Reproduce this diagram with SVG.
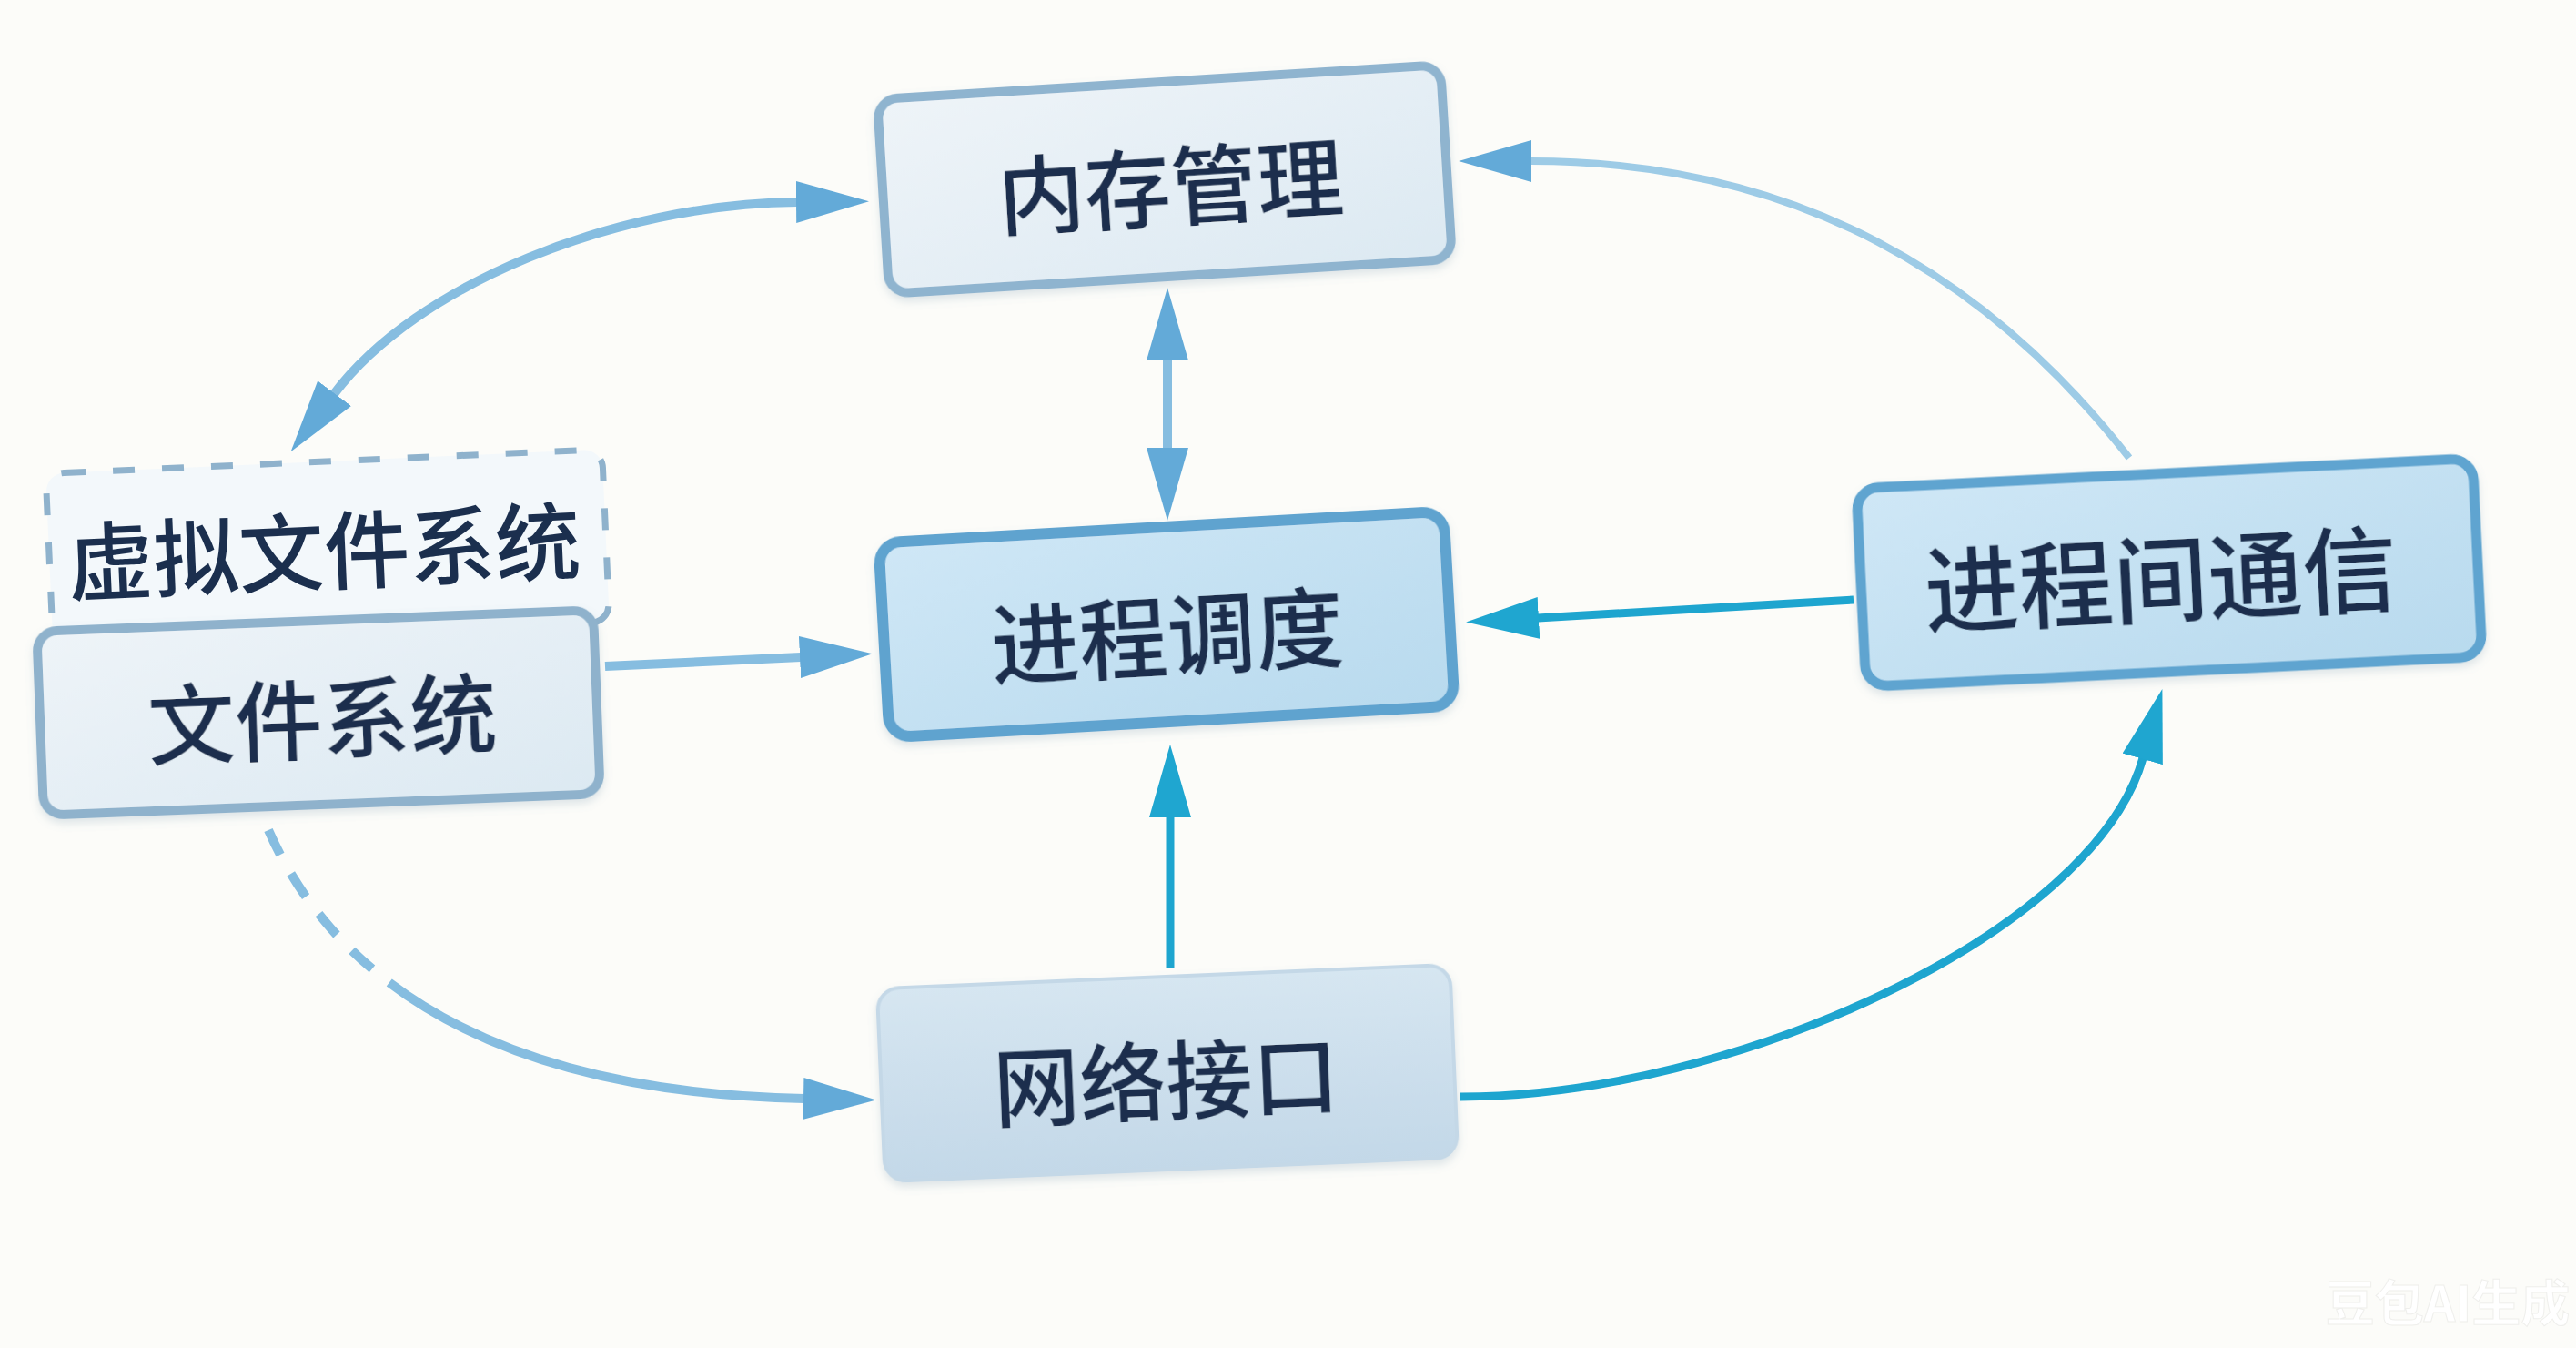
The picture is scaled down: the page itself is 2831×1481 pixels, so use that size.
<svg xmlns="http://www.w3.org/2000/svg" width="2831" height="1481" viewBox="0 0 2831 1481">
  <defs>
    <style>
      .lbl { font-family: "Noto Sans CJK SC", "Noto Sans", sans-serif; font-weight: 500; fill: #1b2f4e; text-anchor: middle; dominant-baseline: central; }
      .conn { fill: none; stroke-linecap: butt; }
      .light { stroke: #86bde0; stroke-width: 10; }
      .teal { stroke: #1ea5cf; stroke-width: 9; }
      .pale { stroke: #9dcbe6; stroke-width: 8; }
    </style>
    <linearGradient id="gPale" x1="0" y1="0" x2="1" y2="1">
      <stop offset="0" stop-color="#eef4f8"/>
      <stop offset="1" stop-color="#dce9f2"/>
    </linearGradient>
    <linearGradient id="gBlue" x1="0" y1="0" x2="1" y2="1">
      <stop offset="0" stop-color="#cfe7f6"/>
      <stop offset="1" stop-color="#b8daee"/>
    </linearGradient>
    <linearGradient id="gNet" x1="0" y1="0" x2="0" y2="1">
      <stop offset="0" stop-color="#d6e6f1"/>
      <stop offset="1" stop-color="#c3d8e8"/>
    </linearGradient>
    <filter id="sh" x="-10%" y="-10%" width="120%" height="130%">
      <feDropShadow dx="0" dy="5" stdDeviation="5" flood-color="#6f90a8" flood-opacity="0.22"/>
    </filter>
    <marker id="ahLight" markerUnits="userSpaceOnUse" markerWidth="80" markerHeight="46" viewBox="0 0 80 46" refX="1" refY="23" orient="auto-start-reverse">
      <path d="M0,0 L80,23 L0,46 Z" fill="#63aad8"/>
    </marker>
    <marker id="ahTeal" markerUnits="userSpaceOnUse" markerWidth="80" markerHeight="46" viewBox="0 0 80 46" refX="1" refY="23" orient="auto-start-reverse">
      <path d="M0,0 L80,23 L0,46 Z" fill="#1fa6d0"/>
    </marker>
  </defs>

  <rect x="0" y="0" width="2831" height="1481" fill="#fcfcf9"/>

  <!-- Nodes -->
  <g id="node-vfs" transform="translate(360,602) rotate(-2.5)">
    <rect x="-306" y="-95" width="612" height="190" rx="20" fill="#f3f8fb" stroke="#8fb2cc" stroke-width="7" stroke-dasharray="24 30"/>
    <text class="lbl" x="-4" y="-2" font-size="94">虚拟文件系统</text>
  </g>

  <g id="node-fs" transform="translate(350,783) rotate(-2.2)" filter="url(#sh)">
    <rect x="-306" y="-101" width="612" height="202" rx="22" fill="url(#gPale)" stroke="#8fb2cc" stroke-width="10"/>
    <text class="lbl" x="4" y="1" font-size="96">文件系统</text>
  </g>

  <g id="node-mem" transform="translate(1280,197) rotate(-3.5)" filter="url(#sh)">
    <rect x="-310" y="-107" width="620" height="214" rx="22" fill="url(#gPale)" stroke="#8fb4cf" stroke-width="10"/>
    <text class="lbl" x="6" y="3" font-size="95">内存管理</text>
  </g>

  <g id="node-sched" transform="translate(1282,686) rotate(-3.2)" filter="url(#sh)">
    <rect x="-311" y="-107" width="622" height="214" rx="24" fill="url(#gBlue)" stroke="#5ea3cf" stroke-width="12"/>
    <text class="lbl" x="0" y="6" font-size="97">进程调度</text>
  </g>

  <g id="node-ipc" transform="translate(2384,629) rotate(-2.8)" filter="url(#sh)">
    <rect x="-339" y="-109" width="678" height="218" rx="24" fill="url(#gBlue)" stroke="#5ea4d0" stroke-width="11"/>
    <text class="lbl" x="-10" y="1" font-size="104">进程间通信</text>
  </g>

  <g id="node-net" transform="translate(1283,1179) rotate(-2.4)" filter="url(#sh)">
    <rect x="-315" y="-106" width="630" height="212" rx="24" fill="url(#gNet)" stroke="#c4d8e7" stroke-width="4"/>
    <text class="lbl" x="-2" y="3" font-size="95">网络接口</text>
  </g>

  <!-- Connectors -->
  <g id="connectors">
    <path id="c-mem-sched" class="conn light" d="M1283,395 L1283,493" marker-start="url(#ahLight)" marker-end="url(#ahLight)"/>
    <path id="c-fs-sched" class="conn light" d="M665,732 L880,722" marker-end="url(#ahLight)"/>
    <path id="c-mem-vfs" class="conn light" stroke-width="9" d="M367,433 C457,313 676,224 876,222" marker-start="url(#ahLight)" marker-end="url(#ahLight)"/>
    <path id="c-fs-net" class="conn light" stroke-width="9" stroke-dasharray="30 24 30 24 30 24 30 24 3000" d="M295,912 C360,1060 520,1200 884,1207" marker-end="url(#ahLight)"/>
    <path id="c-ipc-mem" class="conn pale" d="M2340,503 C2185,305 1977,177 1682,177" marker-end="url(#ahLight)"/>
    <path id="c-ipc-sched" class="conn teal" d="M2037,659 L1690,679" marker-end="url(#ahTeal)"/>
    <path id="c-net-sched" class="conn teal" d="M1286,1064 L1286,897" marker-end="url(#ahTeal)"/>
    <path id="c-net-ipc" class="conn teal" stroke-width="8" d="M1605,1205 C1904,1205 2301,1025 2355,833" marker-end="url(#ahTeal)"/>
  </g>

  <text x="2690" y="1428" font-family="'Noto Sans CJK SC', sans-serif" font-weight="700" font-size="54" fill="#ffffff" stroke="#efefec" stroke-width="1" text-anchor="middle" dominant-baseline="central">豆包AI生成</text>
</svg>
